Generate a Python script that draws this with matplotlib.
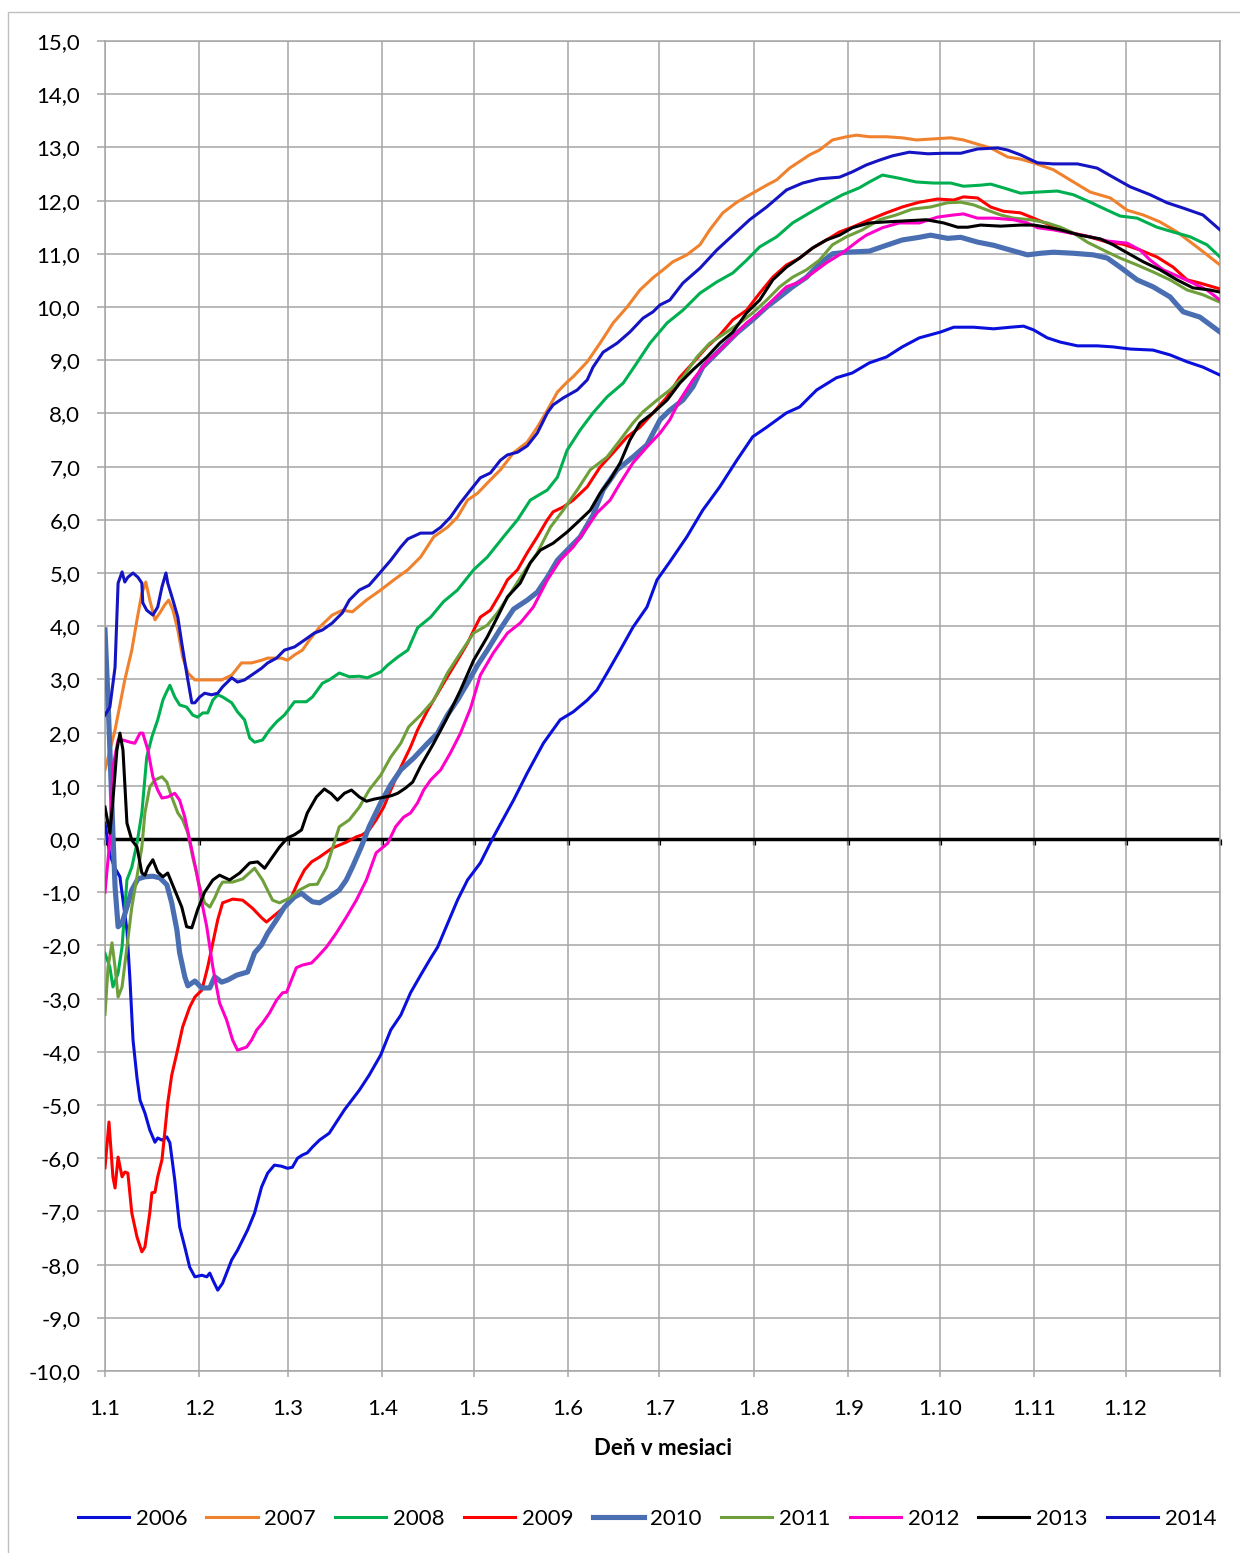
import matplotlib
matplotlib.use("Agg")
import matplotlib.pyplot as plt
from matplotlib.patches import Rectangle

plt.rcParams["font.family"] = ["Lato", "DejaVu Sans"]

# ---------------------------------------------------------------------------
# Data: (day of year, value) pairs, day 0 = 1 January, 366-day axis
# ---------------------------------------------------------------------------
YEARS = ["2006", "2007", "2008", "2009", "2010", "2011", "2012", "2013", "2014"]

S2006 = [(0, 0.30), (1.6, -0.30), (3.3, -0.55), (4.9, -0.71), (5.9, -1.15), (7.2, -1.71), (8.2, -2.65),
         (9.2, -3.78), (10.5, -4.49), (11.5, -4.91), (13.1, -5.15), (14.7, -5.47), (16.4, -5.70), (17.3, -5.62),
         (18.7, -5.66), (20.3, -5.60), (21.3, -5.71), (22.9, -6.41), (24.5, -7.29), (26.2, -7.67), (27.8, -8.05),
         (29.5, -8.23), (31.8, -8.20), (33.4, -8.23), (34.4, -8.16), (35.4, -8.29), (37.0, -8.48), (38.6, -8.35),
         (41.6, -7.91), (43.5, -7.73), (46.8, -7.35), (49.1, -7.03), (51.4, -6.54), (53.4, -6.28), (55.6, -6.13),
         (57.9, -6.15), (59.9, -6.19), (61.5, -6.17), (63.2, -6.00), (64.8, -5.94), (66.4, -5.90), (68.1, -5.79),
         (70.4, -5.66), (73.6, -5.53), (78.6, -5.09), (83.5, -4.72), (86.7, -4.44), (90.5, -4.06), (93.8, -3.59),
         (97.1, -3.31), (100.3, -2.89), (103.6, -2.56), (106.9, -2.24), (109.2, -2.03), (115.7, -1.15),
         (119.0, -0.77), (123.2, -0.45), (127.5, 0.04), (134.1, 0.73), (138.6, 1.24), (143.9, 1.80),
         (149.4, 2.24), (153.7, 2.39), (158.3, 2.61), (161.5, 2.80), (164.8, 3.12), (169.1, 3.55), (173.3, 3.98),
         (177.9, 4.36), (181.2, 4.87), (185.4, 5.21), (191.0, 5.68), (196.2, 6.18), (201.8, 6.62), (207.4, 7.12),
         (212.6, 7.56), (217.2, 7.74), (223.7, 8.01), (228.0, 8.12), (233.6, 8.44), (240.1, 8.67), (245.3, 8.76),
         (250.9, 8.95), (256.5, 9.06), (261.7, 9.25), (267.3, 9.42), (274.3, 9.53), (278.6, 9.62), (285.1, 9.62),
         (291.7, 9.59), (297.2, 9.62), (301.5, 9.64), (304.8, 9.57), (309.3, 9.42), (313.6, 9.34), (319.2, 9.27),
         (325.7, 9.27), (330.9, 9.25), (336.5, 9.21), (344.0, 9.19), (349.6, 9.10), (355.2, 8.97), (360.4, 8.87),
         (366, 8.72)]

S2007 = [(0, 1.30), (3.3, 2.05), (6.5, 2.99), (8.8, 3.55), (10.5, 4.12), (12.1, 4.62), (13.4, 4.83), (14.7, 4.49),
         (16.4, 4.12), (18.0, 4.25), (19.6, 4.40), (20.9, 4.49), (22.3, 4.30), (23.9, 3.93), (25.5, 3.42),
         (27.2, 3.12), (29.5, 2.99), (32.7, 2.99), (36.0, 2.99), (38.3, 2.99), (41.6, 3.08), (44.8, 3.31),
         (48.1, 3.31), (51.4, 3.36), (53.4, 3.40), (57.9, 3.40), (59.9, 3.36), (62.2, 3.46), (64.8, 3.55),
         (67.1, 3.74), (70.4, 3.98), (74.6, 4.21), (77.9, 4.30), (81.2, 4.27), (85.8, 4.49), (90.5, 4.68),
         (94.8, 4.87), (99.4, 5.06), (103.6, 5.30), (107.9, 5.68), (112.4, 5.86), (115.7, 6.05), (119.0, 6.37),
         (122.3, 6.50), (126.5, 6.75), (129.8, 6.94), (134.1, 7.26), (138.6, 7.46), (141.9, 7.74), (145.2, 8.06),
         (148.5, 8.40), (151.7, 8.59), (153.7, 8.69), (158.3, 8.97), (162.5, 9.32), (166.8, 9.70), (171.4, 10.00),
         (175.6, 10.32), (179.9, 10.55), (183.2, 10.70), (186.4, 10.85), (191.0, 10.98), (195.3, 11.17),
         (198.5, 11.45), (202.8, 11.77), (207.4, 11.97), (212.6, 12.14), (217.2, 12.29), (220.5, 12.39),
         (224.7, 12.61), (231.3, 12.86), (234.5, 12.95), (238.8, 13.14), (243.4, 13.20), (246.7, 13.23),
         (250.9, 13.20), (256.5, 13.20), (261.7, 13.18), (266.3, 13.14), (272.0, 13.16), (277.6, 13.18),
         (281.8, 13.14), (286.4, 13.06), (290.7, 12.99), (296.3, 12.82), (300.5, 12.78), (304.8, 12.71),
         (311.3, 12.58), (317.9, 12.35), (323.4, 12.16), (330.0, 12.05), (335.5, 11.82), (340.8, 11.73),
         (346.3, 11.60), (351.9, 11.41), (358.4, 11.13), (366, 10.79)]

S2008 = [(0, -2.15), (1.6, -2.41), (2.6, -2.78), (4.3, -2.52), (5.6, -2.03), (7.2, -0.77), (8.8, -0.53),
         (10.5, -0.08), (12.1, 0.49), (13.7, 1.54), (15.4, 1.92), (17.3, 2.24), (19.0, 2.61), (20.0, 2.74),
         (21.3, 2.89), (22.9, 2.67), (24.5, 2.52), (26.8, 2.48), (28.8, 2.33), (30.4, 2.29), (32.1, 2.37),
         (33.7, 2.37), (35.4, 2.61), (37.0, 2.71), (38.6, 2.67), (41.6, 2.56), (43.5, 2.39), (45.8, 2.24),
         (47.5, 1.90), (49.1, 1.82), (51.7, 1.86), (54.0, 2.05), (56.3, 2.20), (58.9, 2.33), (62.2, 2.58),
         (66.1, 2.58), (68.1, 2.67), (71.4, 2.93), (73.6, 2.99), (76.9, 3.12), (80.2, 3.05), (83.5, 3.06),
         (86.1, 3.03), (90.5, 3.14), (92.8, 3.27), (96.1, 3.42), (99.4, 3.55), (102.6, 3.97), (106.9, 4.17),
         (111.1, 4.46), (115.7, 4.68), (121.0, 5.06), (125.5, 5.30), (130.8, 5.68), (135.4, 6.00), (139.6, 6.37),
         (145.2, 6.56), (148.5, 6.80), (151.7, 7.31), (156.0, 7.69), (160.2, 8.01), (164.8, 8.31), (170.1, 8.57),
         (174.6, 8.95), (178.9, 9.32), (184.5, 9.70), (189.7, 9.94), (195.3, 10.26), (200.8, 10.47),
         (206.1, 10.64), (210.6, 10.88), (214.9, 11.13), (220.5, 11.32), (225.7, 11.58), (231.3, 11.77),
         (236.8, 11.95), (242.1, 12.11), (247.6, 12.24), (250.9, 12.35), (255.2, 12.48), (260.7, 12.42),
         (266.3, 12.35), (272.0, 12.33), (277.6, 12.33), (281.8, 12.27), (287.4, 12.29), (290.7, 12.31),
         (294.9, 12.24), (300.5, 12.14), (306.1, 12.16), (312.6, 12.18), (317.9, 12.11), (323.4, 11.97),
         (329.0, 11.82), (333.2, 11.71), (338.8, 11.67), (345.3, 11.50), (350.6, 11.41), (356.2, 11.32),
         (361.7, 11.17), (366, 10.94)]

S2009 = [(0, -6.18), (1.3, -5.32), (2.6, -6.35), (3.3, -6.56), (4.3, -5.98), (5.6, -6.35), (6.5, -6.26),
         (7.5, -6.28), (8.8, -7.03), (10.5, -7.48), (12.1, -7.76), (13.1, -7.67), (14.7, -7.03), (15.4, -6.65),
         (16.4, -6.64), (17.3, -6.35), (18.7, -6.03), (19.6, -5.53), (20.6, -4.96), (21.9, -4.44), (23.6, -4.02),
         (25.5, -3.53), (27.8, -3.16), (29.5, -2.97), (31.8, -2.84), (33.7, -2.41), (35.4, -1.95), (37.0, -1.52),
         (38.6, -1.20), (41.9, -1.13), (45.2, -1.15), (48.4, -1.30), (51.4, -1.48), (53.0, -1.56), (54.7, -1.48),
         (56.6, -1.39), (58.9, -1.28), (61.2, -1.09), (63.2, -0.83), (65.5, -0.58), (67.8, -0.43), (70.4, -0.34),
         (74.6, -0.17), (79.2, -0.06), (82.5, 0.04), (84.5, 0.08), (86.7, 0.17), (89.0, 0.36), (91.5, 0.60),
         (93.8, 0.92), (97.1, 1.35), (100.3, 1.73), (102.6, 2.05), (105.9, 2.42), (109.2, 2.74), (112.4, 3.05),
         (115.7, 3.36), (119.0, 3.68), (121.5, 3.98), (123.2, 4.17), (126.5, 4.30), (129.8, 4.62), (132.1, 4.87),
         (135.4, 5.06), (138.6, 5.38), (141.9, 5.68), (145.2, 6.00), (147.1, 6.15), (150.4, 6.24), (153.7, 6.37),
         (158.3, 6.62), (162.5, 6.99), (166.8, 7.26), (171.4, 7.56), (175.6, 7.74), (179.9, 8.01), (184.5, 8.31),
         (188.7, 8.68), (193.0, 8.95), (197.6, 9.25), (201.8, 9.47), (206.1, 9.76), (210.6, 9.94), (214.9, 10.26),
         (219.2, 10.56), (223.7, 10.79), (228.0, 10.92), (232.3, 11.11), (236.8, 11.26), (241.1, 11.41),
         (245.3, 11.50), (250.9, 11.64), (256.5, 11.77), (261.7, 11.88), (267.3, 11.97), (273.3, 12.03),
         (278.6, 12.01), (281.8, 12.07), (286.4, 12.05), (290.7, 11.88), (294.9, 11.80), (300.5, 11.77),
         (304.8, 11.67), (310.3, 11.54), (315.9, 11.41), (322.4, 11.33), (329.0, 11.22), (334.2, 11.18),
         (339.8, 11.07), (345.3, 10.94), (350.6, 10.75), (355.2, 10.51), (359.4, 10.45), (366, 10.34)]

S2010 = [(0, 3.93), (1.0, 2.61), (2.6, 0.11), (3.3, -0.90), (4.3, -1.65), (5.6, -1.58), (7.2, -1.28), (8.8, -0.96),
         (10.8, -0.75), (13.1, -0.71), (15.7, -0.70), (18.0, -0.73), (20.3, -0.86), (21.9, -1.20), (23.6, -1.71),
         (24.5, -2.14), (26.2, -2.59), (27.2, -2.76), (29.5, -2.67), (31.8, -2.80), (34.4, -2.80), (36.0, -2.59),
         (38.3, -2.69), (40.3, -2.65), (43.2, -2.56), (46.8, -2.50), (49.1, -2.14), (51.4, -1.99), (53.4, -1.77),
         (56.3, -1.52), (58.9, -1.28), (62.2, -1.09), (64.5, -1.02), (66.4, -1.11), (68.1, -1.18), (70.4, -1.20),
         (73.6, -1.09), (76.9, -0.96), (79.2, -0.77), (81.2, -0.53), (84.1, -0.15), (86.7, 0.23), (90.5, 0.68),
         (93.8, 1.02), (97.1, 1.30), (101.3, 1.52), (105.9, 1.80), (109.2, 1.99), (112.4, 2.33), (115.7, 2.61),
         (119.0, 2.93), (122.3, 3.27), (125.5, 3.55), (129.8, 3.95), (134.1, 4.32), (138.6, 4.49), (141.9, 4.64),
         (145.2, 4.92), (148.5, 5.24), (151.7, 5.43), (156.0, 5.68), (160.2, 6.09), (163.5, 6.56), (168.1, 6.94),
         (173.3, 7.18), (177.9, 7.41), (182.2, 7.88), (185.4, 8.06), (189.7, 8.25), (193.0, 8.50), (196.2, 8.87),
         (201.8, 9.19), (207.4, 9.51), (212.6, 9.76), (217.2, 10.00), (221.5, 10.19), (225.7, 10.38),
         (230.3, 10.56), (234.5, 10.81), (238.8, 11.00), (243.4, 11.03), (250.9, 11.05), (256.5, 11.16),
         (261.7, 11.26), (267.3, 11.31), (271.0, 11.35), (276.6, 11.29), (280.9, 11.31), (286.4, 11.22),
         (291.7, 11.16), (297.2, 11.07), (302.8, 10.98), (307.1, 11.01), (311.3, 11.03), (317.9, 11.01),
         (324.4, 10.98), (329.0, 10.92), (333.2, 10.75), (338.8, 10.51), (344.0, 10.38), (349.6, 10.19),
         (353.9, 9.91), (359.4, 9.81), (366, 9.53)]

S2011 = [(0, -3.30), (1.0, -2.41), (2.3, -1.95), (3.3, -2.41), (4.3, -2.97), (5.6, -2.78), (7.2, -2.03),
         (8.8, -1.28), (10.5, -0.71), (12.1, -0.15), (13.1, 0.49), (14.7, 0.98), (16.4, 1.11), (18.7, 1.17),
         (20.3, 1.07), (21.9, 0.79), (23.9, 0.49), (25.5, 0.36), (27.2, 0.11), (28.8, -0.34), (31.1, -0.90),
         (32.7, -1.20), (34.4, -1.28), (36.0, -1.11), (37.6, -0.90), (38.6, -0.81), (41.9, -0.81), (45.2, -0.75),
         (49.1, -0.55), (51.7, -0.77), (55.0, -1.15), (57.3, -1.20), (60.6, -1.11), (63.8, -0.96), (67.1, -0.86),
         (69.7, -0.85), (72.7, -0.53), (74.3, -0.24), (76.9, 0.23), (80.2, 0.36), (83.5, 0.60), (86.7, 0.92),
         (90.5, 1.20), (93.8, 1.54), (97.1, 1.80), (99.7, 2.11), (103.6, 2.33), (107.9, 2.61), (112.4, 3.12),
         (116.7, 3.50), (121.0, 3.87), (125.5, 4.02), (128.8, 4.25), (133.1, 4.62), (137.3, 5.00), (141.9, 5.38),
         (146.2, 5.86), (150.4, 6.18), (155.0, 6.56), (159.3, 6.94), (164.8, 7.18), (169.1, 7.50), (173.3, 7.82),
         (176.6, 8.03), (181.2, 8.25), (185.4, 8.44), (189.7, 8.68), (194.3, 9.06), (198.5, 9.32), (204.1, 9.53),
         (208.4, 9.70), (212.6, 9.89), (217.2, 10.13), (221.5, 10.38), (225.7, 10.56), (230.3, 10.70),
         (234.5, 10.88), (238.8, 11.17), (243.4, 11.32), (248.6, 11.45), (254.2, 11.64), (259.7, 11.73),
         (265.0, 11.84), (271.0, 11.88), (276.6, 11.96), (280.9, 11.97), (285.1, 11.92), (289.7, 11.82),
         (294.0, 11.73), (298.2, 11.67), (303.8, 11.64), (309.3, 11.58), (313.6, 11.50), (317.9, 11.39),
         (322.4, 11.22), (327.7, 11.07), (333.2, 10.92), (338.8, 10.79), (344.0, 10.66), (349.6, 10.51),
         (355.2, 10.32), (360.4, 10.23), (366, 10.09)]

S2012 = [(0, -1.00), (1.6, -0.02), (2.6, 1.35), (4.3, 1.86), (5.9, 1.86), (8.2, 1.82), (9.8, 1.80), (11.5, 1.99),
         (12.4, 1.99), (14.1, 1.67), (15.7, 1.17), (17.3, 0.92), (18.7, 0.77), (20.6, 0.79), (22.9, 0.86),
         (24.5, 0.73), (26.2, 0.41), (27.8, -0.02), (30.1, -0.64), (32.1, -1.28), (33.4, -1.65), (35.4, -2.41),
         (37.6, -3.08), (39.9, -3.40), (41.9, -3.78), (43.5, -3.97), (46.5, -3.91), (48.1, -3.78), (49.8, -3.59),
         (51.7, -3.46), (54.0, -3.27), (56.3, -3.03), (58.3, -2.89), (59.6, -2.88), (61.2, -2.65), (62.8, -2.42),
         (64.8, -2.37), (67.8, -2.33), (69.7, -2.22), (72.7, -2.03), (75.9, -1.77), (79.2, -1.47), (82.5, -1.15),
         (85.8, -0.77), (89.0, -0.26), (92.8, -0.08), (95.4, 0.23), (98.0, 0.41), (100.3, 0.49), (102.6, 0.68),
         (104.6, 0.92), (106.9, 1.11), (110.2, 1.30), (113.4, 1.62), (116.7, 1.99), (120.0, 2.46), (123.2, 3.08),
         (127.5, 3.50), (132.1, 3.87), (136.3, 4.06), (140.6, 4.36), (145.2, 4.87), (149.4, 5.24), (153.7, 5.49),
         (158.3, 5.86), (161.5, 6.13), (165.8, 6.37), (169.1, 6.69), (173.3, 7.07), (177.9, 7.37), (182.2, 7.63),
         (185.4, 7.88), (188.7, 8.25), (193.0, 8.63), (197.6, 8.97), (201.8, 9.19), (206.1, 9.44), (210.6, 9.70),
         (214.9, 9.89), (219.2, 10.13), (223.7, 10.38), (228.0, 10.47), (232.3, 10.64), (236.8, 10.83),
         (242.1, 11.02), (247.6, 11.26), (249.9, 11.35), (255.2, 11.49), (260.7, 11.58), (267.3, 11.58),
         (273.3, 11.69), (278.6, 11.73), (281.8, 11.75), (286.4, 11.67), (291.7, 11.67), (298.2, 11.64),
         (302.8, 11.58), (306.1, 11.49), (311.3, 11.45), (316.9, 11.39), (323.4, 11.32), (329.0, 11.24),
         (335.5, 11.20), (339.8, 11.07), (343.1, 10.88), (347.3, 10.70), (352.9, 10.56), (357.1, 10.45),
         (361.7, 10.32), (366, 10.13)]

S2013 = [(0, 0.60), (1.6, 0.11), (2.6, 0.73), (3.9, 1.67), (4.9, 1.99), (5.9, 1.67), (7.2, 0.30), (8.8, -0.02),
         (10.5, -0.15), (12.1, -0.64), (13.1, -0.68), (14.1, -0.53), (15.7, -0.39), (17.3, -0.62), (19.0, -0.71),
         (20.6, -0.64), (22.9, -0.96), (25.2, -1.28), (26.8, -1.65), (28.5, -1.67), (30.4, -1.33), (32.7, -1.00),
         (35.4, -0.77), (37.6, -0.68), (40.9, -0.77), (44.2, -0.64), (47.5, -0.45), (50.1, -0.43), (52.4, -0.55),
         (54.7, -0.36), (57.3, -0.15), (59.9, 0.02), (62.2, 0.08), (64.5, 0.17), (66.4, 0.49), (69.4, 0.79),
         (72.0, 0.94), (74.3, 0.85), (76.3, 0.73), (78.6, 0.86), (80.9, 0.92), (83.5, 0.79), (85.8, 0.71),
         (88.4, 0.75), (93.8, 0.81), (96.1, 0.86), (98.7, 0.96), (101.0, 1.07), (103.6, 1.37), (107.9, 1.80),
         (112.4, 2.29), (116.7, 2.80), (121.0, 3.36), (125.5, 3.80), (128.8, 4.17), (132.1, 4.55), (136.3, 4.81),
         (139.6, 5.19), (142.9, 5.43), (147.1, 5.56), (151.7, 5.77), (156.0, 6.00), (159.3, 6.18), (162.5, 6.50),
         (165.8, 6.75), (169.1, 7.07), (172.3, 7.50), (175.6, 7.82), (179.9, 8.01), (184.5, 8.25), (188.7, 8.57),
         (193.0, 8.82), (197.6, 9.06), (201.8, 9.32), (206.1, 9.53), (210.6, 9.89), (214.9, 10.13), (219.2, 10.51),
         (223.7, 10.75), (228.0, 10.92), (232.3, 11.11), (236.8, 11.26), (241.1, 11.35), (245.3, 11.49),
         (250.9, 11.58), (256.5, 11.60), (263.0, 11.62), (269.6, 11.64), (275.3, 11.58), (279.9, 11.50),
         (283.2, 11.50), (287.4, 11.54), (294.0, 11.52), (300.5, 11.54), (304.8, 11.54), (309.3, 11.50),
         (313.6, 11.45), (320.1, 11.35), (326.7, 11.28), (330.9, 11.17), (335.5, 11.02), (340.8, 10.85),
         (346.3, 10.70), (351.9, 10.51), (357.1, 10.36), (362.7, 10.32), (366, 10.28)]

S2014 = [(0, 2.33), (1.6, 2.48), (3.3, 3.23), (4.3, 4.81), (5.6, 5.02), (6.5, 4.83), (7.5, 4.92), (9.2, 5.00),
         (10.8, 4.92), (12.1, 4.81), (12.4, 4.44), (13.7, 4.30), (15.7, 4.21), (17.3, 4.36), (18.7, 4.74),
         (20.0, 5.00), (20.6, 4.81), (22.3, 4.49), (23.9, 4.17), (25.2, 3.68), (26.8, 3.12), (28.5, 2.56),
         (29.5, 2.56), (31.1, 2.67), (32.7, 2.74), (35.0, 2.71), (37.0, 2.74), (38.6, 2.86), (41.6, 3.03),
         (43.5, 2.95), (45.8, 2.99), (48.1, 3.08), (51.4, 3.21), (53.4, 3.31), (56.3, 3.40), (58.9, 3.55),
         (62.2, 3.61), (65.5, 3.74), (68.7, 3.87), (71.4, 3.93), (74.6, 4.06), (77.9, 4.25), (80.2, 4.49),
         (83.5, 4.68), (86.7, 4.77), (90.5, 5.02), (93.8, 5.24), (97.1, 5.49), (99.4, 5.64), (103.6, 5.75),
         (107.5, 5.75), (110.2, 5.86), (113.4, 6.05), (116.7, 6.32), (120.0, 6.56), (123.2, 6.79), (126.5, 6.88),
         (129.8, 7.12), (132.1, 7.22), (135.4, 7.27), (138.6, 7.39), (141.9, 7.63), (145.2, 8.01), (147.1, 8.16),
         (150.4, 8.29), (155.0, 8.44), (158.3, 8.63), (160.2, 8.87), (163.5, 9.15), (168.1, 9.32), (172.3, 9.53),
         (176.6, 9.79), (179.9, 9.91), (182.2, 10.04), (185.4, 10.13), (189.7, 10.45), (195.3, 10.73),
         (200.8, 11.07), (206.1, 11.35), (211.6, 11.64), (217.2, 11.88), (223.7, 12.20), (229.0, 12.33),
         (234.5, 12.41), (241.1, 12.44), (245.3, 12.54), (249.9, 12.67), (254.2, 12.76), (258.4, 12.84),
         (264.0, 12.91), (270.1, 12.88), (275.3, 12.89), (280.9, 12.89), (286.4, 12.97), (293.0, 12.99),
         (296.3, 12.95), (300.5, 12.86), (306.1, 12.71), (311.3, 12.69), (319.2, 12.69), (325.7, 12.61),
         (330.9, 12.44), (336.5, 12.26), (343.1, 12.11), (348.6, 11.96), (353.9, 11.86), (360.4, 11.73),
         (366, 11.45)]

SERIES = [S2006, S2007, S2008, S2009, S2010, S2011, S2012, S2013, S2014]

# Month starts on the day axis and their labels
MONTH_STARTS = [0, 31, 60, 91, 121, 152, 182, 213, 244, 274, 305, 335]
MONTH_LABELS = ["1.1", "1.2", "1.3", "1.4", "1.5", "1.6", "1.7", "1.8", "1.9", "1.10", "1.11", "1.12"]
YEAR_END = 366
Y_TICKS = list(range(-10, 16))

# ---------------------------------------------------------------------------
# Styling
# ---------------------------------------------------------------------------
COLORS = ["#0A10DC", "#F0822E", "#00B050", "#FF0000", "#4A6EB2",
          "#6F9F3A", "#FF00C8", "#000000", "#1414C2"]
WIDTHS = [2.2, 2.2, 2.2, 2.2, 3.7, 2.2, 2.2, 2.2, 2.2]
GRID = "#A6A6A6"
FS = 16

W, H = 1240, 1553
fig = plt.figure(figsize=(W / 100, H / 100), dpi=100)
L, R, T, B = 105, 1220, 41, 1371
ax = fig.add_axes([L / W, 1 - B / H, (R - L) / W, (B - T) / H])

# Zero line drawn as the horizontal axis line
ax.axhline(0, color="black", lw=2.5, zorder=2)

for name, data, c, lw in zip(YEARS, SERIES, COLORS, WIDTHS):
    xs = [p[0] for p in data]
    ys = [p[1] for p in data]
    ax.plot(xs, ys, color=c, lw=lw, label=name, solid_joinstyle="round", zorder=3)

ax.set_xlim(0, YEAR_END)
ax.set_ylim(-10, 15)

ax.set_xticks(MONTH_STARTS + [YEAR_END])
ax.set_xticklabels(MONTH_LABELS + [""])
ax.set_yticks(Y_TICKS)
ax.set_yticklabels([f"{v:.1f}".replace(".", ",") for v in Y_TICKS])

ax.grid(True, color=GRID, lw=1.1, zorder=0)
ax.set_axisbelow(True)
for sp in ax.spines.values():
    sp.set_color(GRID)
    sp.set_linewidth(1.1)

ax.tick_params(axis="y", direction="out", length=5.8, width=1.1, color=GRID,
               pad=12, labelsize=FS, labelcolor="black")
ax.tick_params(axis="x", direction="out", length=4, width=1.1, color=GRID,
               pad=16, labelsize=FS, labelcolor="black")

# Month tick marks hanging below the zero line
zero_ax = ax.secondary_xaxis(10 / 25)
zero_ax.set_xticks(MONTH_STARTS + [YEAR_END])
zero_ax.set_xticklabels([""] * (len(MONTH_STARTS) + 1))
for sp in zero_ax.spines.values():
    sp.set_visible(False)
zero_ax.tick_params(axis="x", which="both", direction="out", length=4.5, width=2.3,
                    color="black", bottom=True, top=False)

ax.set_xlabel("Deň v mesiaci", fontsize=FS, fontweight="bold", labelpad=14)

fig.legend(loc="center", bbox_to_anchor=(647 / W, 1 - 1519 / H), ncol=9, frameon=False,
           fontsize=FS, handlelength=2.3, handletextpad=0.3, columnspacing=0.87)

# Outer chart border
fig.add_artist(Rectangle((8 / W, -0.1), 1.0, 1.1 - 12 / H, transform=fig.transFigure,
                         fill=False, edgecolor="#BFBFBF", lw=1.0))

fig.savefig("out.png", dpi=100)
